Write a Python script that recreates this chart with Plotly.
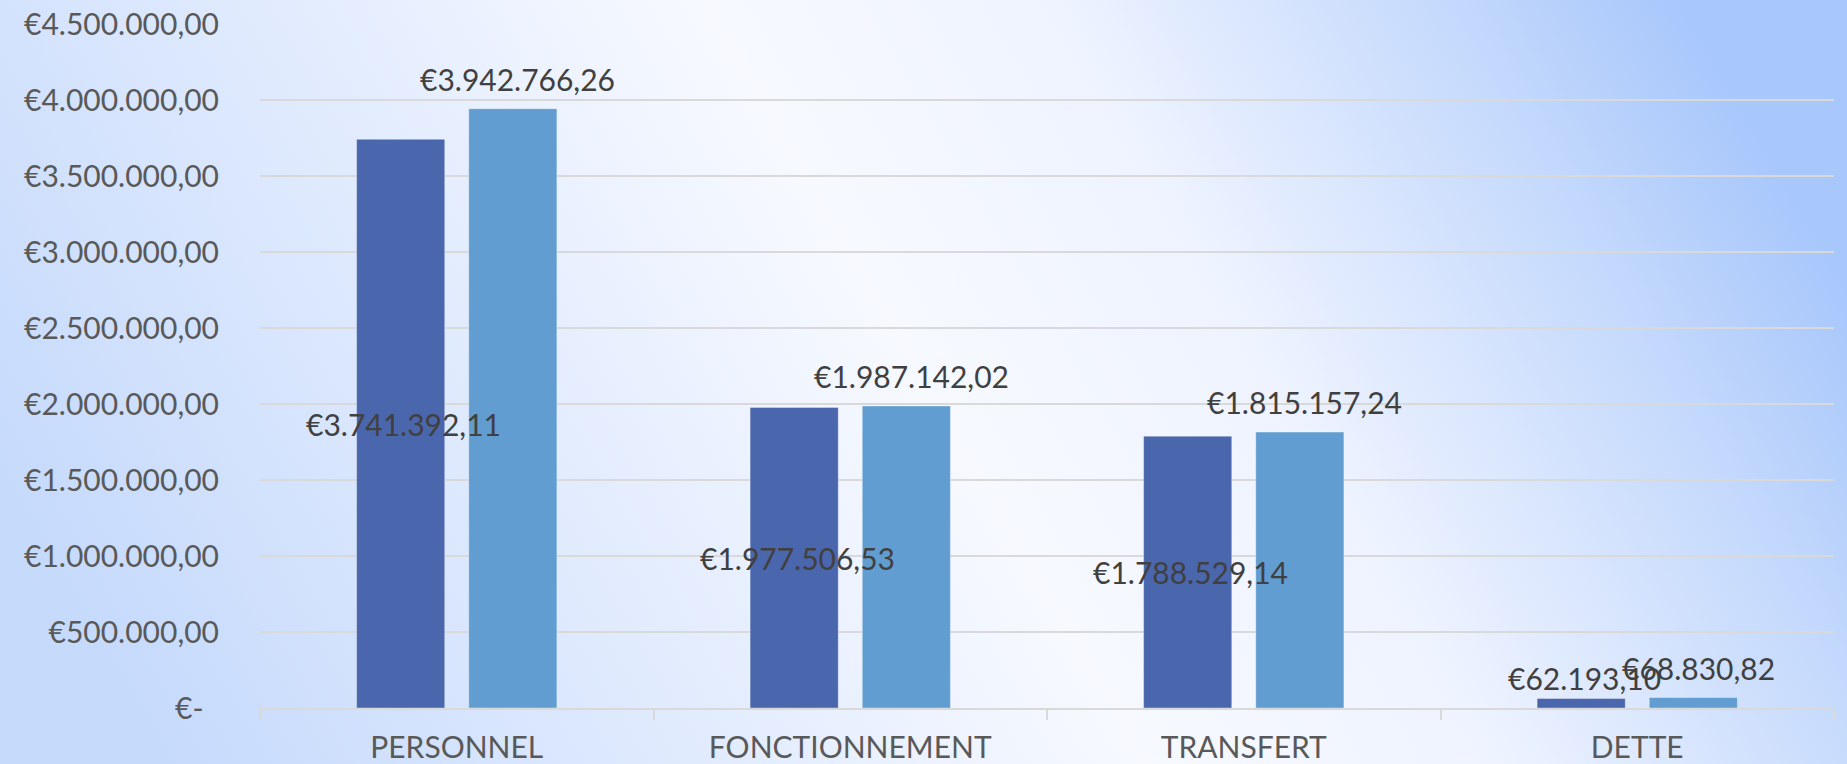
import base64
import plotly.graph_objects as go

categories = ["PERSONNEL", "FONCTIONNEMENT", "TRANSFERT", "DETTE"]
series_a = [3741392.11, 1977506.53, 1788529.14, 62193.10]
series_b = [3942766.26, 1987142.02, 1815157.24, 68830.82]
y_tickvals = [0, 500000, 1000000, 1500000, 2000000, 2500000, 3000000, 3500000, 4000000, 4500000]

W, H = 1847, 764
ML, MR, MT, MB = 260, 13, 24, 56
PW, PH = W - ML - MR, H - MT - MB
BARGAP = 0.43
FONT = "Lato"
FS = 30


def eur(v):
    s = f"{v:,.2f}".replace(",", "X").replace(".", ",").replace("X", ".")
    return "€" + s


y_ticktext = [eur(v) if v else "€-\u00a0\u00a0" for v in y_tickvals]

fig = go.Figure()
fig.add_trace(go.Bar(x=categories, y=series_a, name="A",
                     marker=dict(color="#4A66AC", line=dict(width=1, color="rgba(255,255,255,0.35)"))))
fig.add_trace(go.Bar(x=categories, y=series_b, name="B",
                     marker=dict(color="#629DD1", line=dict(width=1, color="rgba(255,255,255,0.35)"))))

slot = (1 - BARGAP) / 2
annots = []
for i, (a, b) in enumerate(zip(series_a, series_b)):
    small = a < 200000
    annots.append(dict(x=i - slot / 2, y=a if small else a / 2, xref="x", yref="y",
                       text=eur(a), showarrow=False, xshift=3,
                       yanchor="middle", yshift=21 if small else 0,
                       font=dict(family=FONT, size=FS, color="#404040")))
    annots.append(dict(x=i + slot / 2, y=b, xref="x", yref="y",
                       text=eur(b), showarrow=False, xshift=5,
                       yanchor="middle", yshift=30,
                       font=dict(family=FONT, size=FS, color="#404040")))

svg = (f'<svg xmlns="http://www.w3.org/2000/svg" width="{W}" height="{H}" '
       f'viewBox="0 0 {W} {H}" preserveAspectRatio="none">'
       '<defs><linearGradient id="g" x1="0" y1="0.62" x2="1" y2="0.38">'
       '<stop offset="0" stop-color="#c6dafc"/>'
       '<stop offset="0.5" stop-color="#f7f9ff"/>'
       '<stop offset="0.68" stop-color="#eef3ff"/>'
       '<stop offset="0.88" stop-color="#c4d9fc"/>'
       '<stop offset="1" stop-color="#a8c7fb"/>'
       '</linearGradient></defs>'
       f'<rect x="0" y="0" width="{W}" height="{H}" fill="url(#g)"/></svg>')
src = "data:image/svg+xml;base64," + base64.b64encode(svg.encode()).decode()

fig.update_layout(
    width=W, height=H,
    margin=dict(l=ML, r=MR, t=MT, b=MB, pad=0, autoexpand=False),
    paper_bgcolor="#e6eefd",
    plot_bgcolor="rgba(0,0,0,0)",
    barmode="group", bargap=BARGAP, bargroupgap=0.214,
    showlegend=False,
    font=dict(family=FONT, size=FS, color="#595959"),
    annotations=annots,
    images=[dict(source=src, xref="paper", yref="paper",
                 x=-ML / PW, y=1 + MT / PH, sizex=W / PW, sizey=H / PH,
                 xanchor="left", yanchor="top", sizing="stretch", layer="below")],
    xaxis=dict(showgrid=False, showline=True, linecolor="#d9d9d9", linewidth=1.5,
               ticks="outside", tickson="boundaries", ticklen=10, tickcolor="#d9d9d9",
               tickwidth=1.5, ticklabelstandoff=12, automargin=False,
               tickfont=dict(family=FONT, size=FS, color="#595959")),
    yaxis=dict(range=[0, 4500000], tickvals=y_tickvals, ticktext=y_ticktext,
               showgrid=True, gridcolor="#d9d9d9", gridwidth=1.5, zeroline=False,
               showline=False, ticks="", ticklabelstandoff=40, automargin=False,
               tickfont=dict(family=FONT, size=FS, color="#595959")),
)

fig.write_html("out.html", config={"displayModeBar": False},
               post_script="document.body.style.margin='0';document.body.style.overflow='hidden';")
